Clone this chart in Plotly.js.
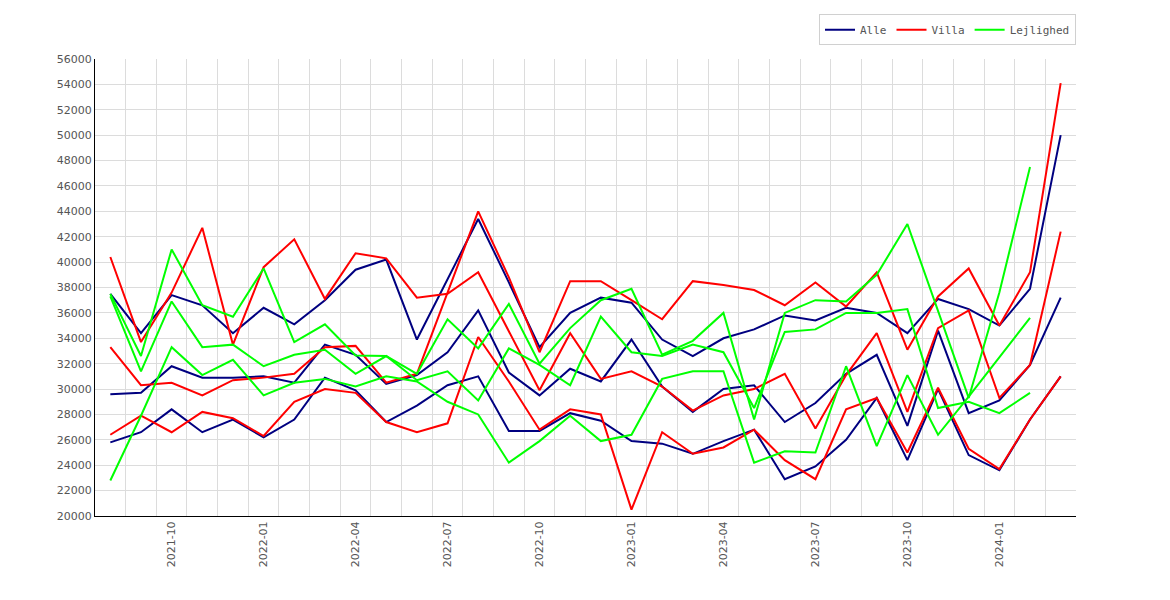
<!DOCTYPE html>
<html>
<head>
<meta charset="utf-8">
<script src="https://cdn.plot.ly/plotly-3.0.1.min.js"></script>
<style>
  html, body { margin: 0; padding: 0; background: #fff; }
  #chart { width: 1170px; height: 600px; }
</style>
</head>
<body>
<div id="chart"></div>
<script>
// Months on the x axis
const months = [
  '2021-08', '2021-09', '2021-10', '2021-11', '2021-12', '2022-01', '2022-02', '2022-03',
  '2022-04', '2022-05', '2022-06', '2022-07', '2022-08', '2022-09', '2022-10', '2022-11',
  '2022-12', '2023-01', '2023-02', '2023-03', '2023-04', '2023-05', '2023-06', '2023-07',
  '2023-08', '2023-09', '2023-10', '2023-11', '2023-12', '2024-01', '2024-02', '2024-03'
];
const tickMonths = ['2021-10', '2022-01', '2022-04', '2022-07', '2022-10', '2023-01', '2023-04', '2023-07', '2023-10', '2024-01'];

// Alle (three lines each)
const alle1 = [37500, 34400, 37400, 36600, 34400, 36400, 35100, 37000, 39400, 40200, 33900, 38600, 43400, 38400, 33300, 36000,
               37200, 36800, 33900, 32600, 34000, 34700, 35800, 35400, 36400, 36000, 34400, 37100, 36300, 35000, 37900, 50000];
const alle2 = [29600, 29700, 31800, 30900, 30900, 31000, 30500, 33500, 32700, 30400, 31100, 32900, 36200, 31300, 29500, 31600,
               30600, 33900, 30200, 28200, 30000, 30300, 27400, 28900, 31200, 32700, 27100, 34600, 28100, 29100, 31900, 37200];
const alle3 = [25800, 26600, 28400, 26600, 27600, 26200, 27600, 30900, 29900, 27400, 28700, 30300, 31000, 26700, 26700, 28100,
               27500, 25900, 25700, 24900, 25900, 26800, 22900, 23900, 26000, 29300, 24400, 30000, 24800, 23600, 27600, 31000];

// Villa
const villa1 = [40400, 33700, 37600, 42700, 33500, 39600, 41800, 37100, 40700, 40300, 37200, 37500, 39200, 34600, 29900, 34400,
                30800, 31400, 30200, 28300, 29500, 30000, 31200, 26900, 31100, 34400, 28200, 34800, 36200, 29300, 31900, 42400];
const villa2 = [33300, 30300, 30500, 29500, 30700, 30900, 31200, 33300, 33400, 30500, 31200, 37600, 44000, 38800, 32900, 38500,
                38500, 37000, 35500, 38500, 38200, 37800, 36600, 38400, 36500, 39200, 33100, 37300, 39500, 35000, 39200, 54100];
const villa3 = [26400, 27900, 26600, 28200, 27700, 26300, 29000, 30000, 29700, 27400, 26600, 27300, 34100, 30600, 26800, 28400,
                28000, 20500, 26600, 24900, 25400, 26800, 24400, 22900, 28400, 29300, 25000, 30100, 25300, 23700, 27600, 31000];

// Lejlighed (no value for 2024-03)
const lejl1 = [37500, 32600, 41000, 36600, 35700, 39500, 33700, 35100, 32650, 32600, 31200, 35500, 33200, 36700, 32000, 34800,
               37000, 37900, 32700, 33800, 36000, 27600, 36000, 37000, 36900, 39000, 43000, 36200, 29300, 37600, 47500, null];
const lejl2 = [37300, 31400, 36900, 33300, 33500, 31800, 32700, 33100, 31200, 32600, 30700, 31400, 29100, 33200, 31900, 30300,
               35700, 32900, 32600, 33500, 32900, 28500, 34500, 34700, 36000, 36000, 36300, 28500, 29000, 28100, 29700, null];
const lejl3 = [22800, 27900, 33300, 31100, 32300, 29500, 30500, 30800, 30200, 31000, 30600, 29000, 28000, 24200, 25900, 27900,
               25900, 26400, 30800, 31400, 31400, 24200, 25100, 25000, 31800, 25500, 31100, 26400, 29400, 32500, 35600, null];

const navy = '#000080', red = '#ff0000', green = '#00ff00';

const line = (y, color, name, show) => ({
    type: 'scatter',
    mode: 'lines',
    x: months,
    y: y,
    name: name,
    showlegend: show,
    line: { color: color, width: 2 },
    hoverinfo: 'skip'
});

const traces = [
    line(alle1, navy, 'Alle', false),
    line(alle2, navy, 'Alle', false),
    line(alle3, navy, 'Alle', true),
    line(villa1, red, 'Villa', false),
    line(villa2, red, 'Villa', false),
    line(villa3, red, 'Villa', true),
    line(lejl1, green, 'Lejlighed', false),
    line(lejl2, green, 'Lejlighed', false),
    line(lejl3, green, 'Lejlighed', true)
];

const tickFont = { family: 'DejaVu Sans, sans-serif', size: 11, color: '#555' };

const layout = {
    width: 1170,
    height: 600,
    margin: { l: 95, r: 94, t: 59, b: 84 },
    paper_bgcolor: '#fff',
    plot_bgcolor: '#fff',
    xaxis: {
        type: 'category',
        range: [-0.5, months.length - 0.5],
        tickmode: 'array',
        tickvals: months,
        // only every third month gets a label, grid sits between months
        ticktext: months.map(m => tickMonths.includes(m) ? m : ''),
        tickson: 'boundaries',
        tickangle: -90,
        showgrid: true,
        gridcolor: '#dcdcdc',
        gridwidth: 1,
        zeroline: false,
        showline: true,
        linecolor: '#000',
        linewidth: 1,
        ticks: '',
        tickfont: tickFont
    },
    yaxis: {
        range: [20000, 56000],
        tick0: 20000,
        dtick: 2000,
        tickformat: 'd',
        showgrid: true,
        gridcolor: '#dcdcdc',
        gridwidth: 1,
        zeroline: false,
        showline: true,
        linecolor: '#000',
        linewidth: 1,
        ticks: '',
        tickfont: tickFont
    },
    legend: {
        orientation: 'h',
        x: 1,
        xanchor: 'right',
        y: 1.098,
        yanchor: 'top',
        bgcolor: '#fff',
        bordercolor: '#d0d0d0',
        borderwidth: 1,
        itemwidth: 30,
        font: { family: 'DejaVu Sans Mono, monospace', size: 11, color: '#555' }
    }
};

Plotly.newPlot('chart', traces, layout, { displayModeBar: false, staticPlot: true });
</script>
</body>
</html>
